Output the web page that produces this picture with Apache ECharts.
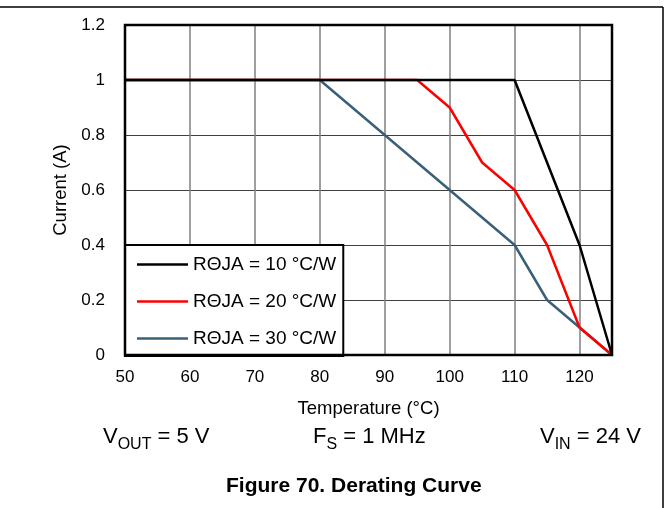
<!DOCTYPE html>
<html>
<head>
<meta charset="utf-8">
<script src="https://cdn.jsdelivr.net/npm/echarts@6/dist/echarts.min.js"></script>
<style>
  html, body { margin: 0; padding: 0; background: #fff; }
  #chart { width: 669px; height: 508px; }
</style>
</head>
<body>
<div id="chart"></div>
<script>
// derating curves, temperature (°C) vs current (A)
const seriesNames = ['RΘJA = 10 °C/W', 'RΘJA = 20 °C/W', 'RΘJA = 30 °C/W'];
const seriesColors = ['#000000', '#ff0000', '#3a6079'];

const temp10 = [50, 110, 120, 125];
const amps10 = [1, 1, 0.4, 0];

const temp20 = [50, 95, 100, 105, 110, 115, 120, 125];
const amps20 = [1, 1, 0.9, 0.7, 0.6, 0.4, 0.1, 0];

const temp30 = [50, 80, 110, 115, 120, 125];
const amps30 = [1, 1, 0.4, 0.2, 0.1, 0];

const pair = (xs, ys) => xs.map((x, i) => [x, ys[i]]);
const curves = [pair(temp10, amps10), pair(temp20, amps20), pair(temp30, amps30)];

const font = 'Liberation Sans, Arial, sans-serif';
// main text lifted by a bottom padding so the subscript drops below its baseline
const noteRich = {
    m: { fontFamily: font, fontSize: 22, color: '#000', verticalAlign: 'bottom', lineHeight: 26, padding: [0, 0, 5, 0] },
    s: { fontFamily: font, fontSize: 16, color: '#000', verticalAlign: 'bottom', lineHeight: 20 }
};

const chart = echarts.init(document.getElementById('chart'));

chart.setOption({
    animation: false,
    backgroundColor: '#fff',
    grid: {
        left: 125,
        right: 57,
        top: 25,
        bottom: 153,
        show: true,
        borderColor: '#000',
        borderWidth: 2.5,
        z: 5
    },
    legend: {
        orient: 'vertical',
        left: 125,
        top: 245,
        data: seriesNames,
        icon: 'rect',
        itemWidth: 51,
        itemHeight: 2.5,
        itemGap: 18,
        padding: [10, 7, 8, 12],
        backgroundColor: '#fff',
        borderColor: '#000',
        borderWidth: 2,
        textStyle: { fontFamily: font, fontSize: 19, color: '#000', lineHeight: 19 }
    },
    xAxis: {
        type: 'value',
        min: 50,
        max: 125,
        interval: 10,
        name: 'Temperature (°C)',
        nameLocation: 'middle',
        nameGap: 44,
        nameTextStyle: { fontFamily: font, fontSize: 18.5, color: '#000' },
        axisLine: { show: false },
        axisTick: { show: false },
        axisLabel: { fontFamily: font, fontSize: 17, color: '#000', margin: 14, showMaxLabel: false },
        splitLine: { show: true, lineStyle: { color: '#7f7f7f', width: 1.5 } }
    },
    yAxis: {
        type: 'value',
        min: 0,
        max: 1.2,
        interval: 0.2,
        name: 'Current (A)',
        nameLocation: 'middle',
        nameGap: 51,
        nameTextStyle: { fontFamily: font, fontSize: 18.5, color: '#000' },
        axisLine: { show: false },
        axisTick: { show: false },
        axisLabel: { fontFamily: font, fontSize: 17, color: '#000', margin: 20 },
        splitLine: { show: true, lineStyle: { color: '#404040', width: 1.2 } }
    },
    series: curves.map((data, i) => ({
        name: seriesNames[i],
        type: 'line',
        data: data,
        showSymbol: false,
        symbol: 'none',
        color: seriesColors[i],
        lineStyle: { color: seriesColors[i], width: 2.5 },
        z: 3 - i
    })),
    graphic: [
        { type: 'line', shape: { x1: 0, y1: 7, x2: 663, y2: 7 }, style: { stroke: '#000', lineWidth: 1.5 } },
        { type: 'line', shape: { x1: 663, y1: 7, x2: 663, y2: 508 }, style: { stroke: '#000', lineWidth: 1.5 } },
        { type: 'text', left: 103, top: 426, style: { text: '{m|V}{s|OUT}{m| = 5 V}', rich: noteRich } },
        { type: 'text', left: 313, top: 426, style: { text: '{m|F}{s|S}{m| = 1 MHz}', rich: noteRich } },
        { type: 'text', right: 28, top: 426, style: { text: '{m|V}{s|IN}{m| = 24 V}', rich: noteRich } },
        {
            type: 'text', left: 226, top: 476,
            style: { text: 'Figure 70. Derating Curve', fontFamily: font, fontSize: 21, fontWeight: 'bold', fill: '#000' }
        }
    ]
});
</script>
</body>
</html>
